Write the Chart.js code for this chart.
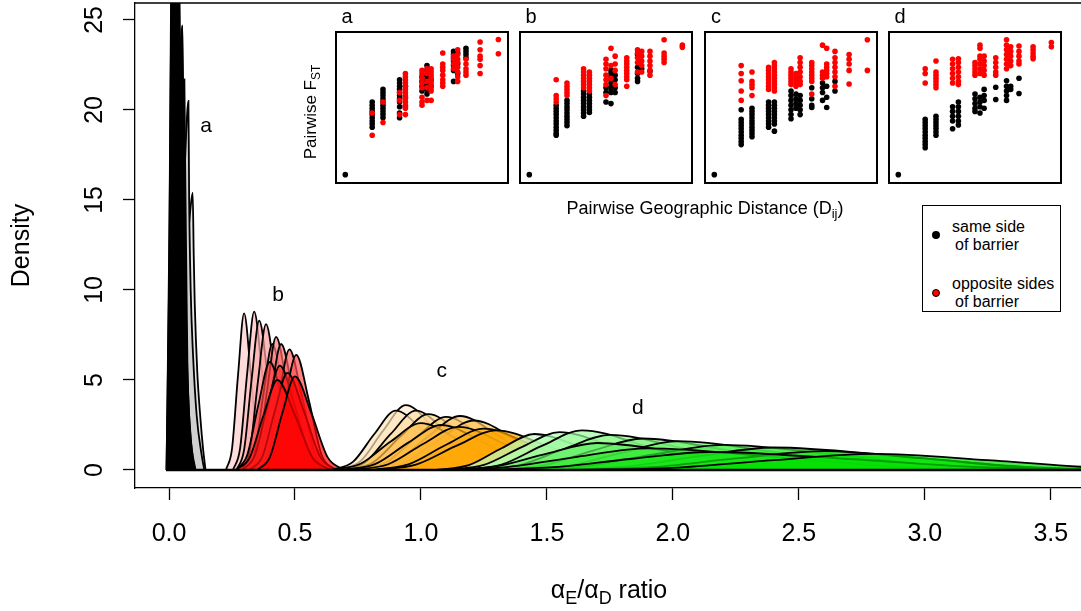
<!DOCTYPE html>
<html><head><meta charset="utf-8">
<script src="https://cdn.jsdelivr.net/npm/chart.js@4.4.1/dist/chart.umd.min.js"></script>
<style>
html,body{margin:0;padding:0;background:#fff;}
#wrap{position:relative;width:1081px;height:611px;overflow:hidden;font-family:"Liberation Sans",Arial,sans-serif;color:#000;}
#main{position:absolute;left:0;top:0;}
.inset{position:absolute;top:31px;}
.txt{position:absolute;white-space:nowrap;line-height:1;transform:translate(-50%,-50%);}
.ltxt{position:absolute;white-space:nowrap;line-height:1;font-size:16px;transform:translateY(-50%);}
.dot{position:absolute;width:8px;height:8px;border-radius:50%;box-sizing:border-box;transform:translate(-50%,-50%);}
</style></head><body>
<div id="wrap">
<canvas id="main" width="1081" height="611"></canvas>
<canvas id="insA" class="inset" style="left:335px" width="174" height="153"></canvas>
<canvas id="insB" class="inset" style="left:519px" width="174" height="153"></canvas>
<canvas id="insC" class="inset" style="left:704px" width="174" height="153"></canvas>
<canvas id="insD" class="inset" style="left:888px" width="174" height="153"></canvas>

<div class="txt" style="left:347px;top:16px;font-size:20px">a</div>
<div class="txt" style="left:531px;top:16px;font-size:20px">b</div>
<div class="txt" style="left:716px;top:16px;font-size:20px">c</div>
<div class="txt" style="left:900px;top:16px;font-size:20px">d</div>
<div class="txt" style="left:312px;top:112px;font-size:17px;transform:translate(-50%,-50%) rotate(-90deg)">Pairwise F<span style="font-size:12px;vertical-align:-4px">ST</span></div>
<div class="txt" style="left:705px;top:209px;font-size:18px">Pairwise Geographic Distance (D<span style="font-size:13px;vertical-align:-4px">ij</span>)</div>
<div class="txt" style="left:609px;top:592px;font-size:25px">&alpha;<span style="font-size:18px;vertical-align:-6px">E</span>/&alpha;<span style="font-size:18px;vertical-align:-6px">D</span> ratio</div>

<div style="position:absolute;left:922px;top:205px;width:139px;height:107px;border:1.5px solid #000;box-sizing:border-box;background:#fff"></div>
<div class="dot" style="left:936px;top:235px;background:#000"></div>
<div class="dot" style="left:936px;top:293px;background:#ff0000;border:1px solid #000"></div>
<div class="ltxt" style="left:952px;top:227px">same side</div>
<div class="ltxt" style="left:955px;top:245px">of barrier</div>
<div class="ltxt" style="left:952px;top:284px">opposite sides</div>
<div class="ltxt" style="left:955px;top:302px">of barrier</div>
</div>
<script>
// ---------- main chart data ----------
const xTicks = [0, 0.5, 1, 1.5, 2, 2.5, 3, 3.5];
const yTicks = [0, 5, 10, 15, 20, 25];

// group a: alphaE/alphaD densities near zero (x, density)
const curvesA = [
  [[0,0],[0.03,4],[0.06,10],[0.085,14.5],[0.094,15.4],[0.098,12],[0.102,9.3],[0.112,5.5],[0.125,2.8],[0.135,1.2],[0.145,0]],
  [[0,0],[0.03,6],[0.055,14],[0.072,19.8],[0.077,20.5],[0.08,15],[0.086,10],[0.095,6.5],[0.11,3],[0.13,0.8],[0.14,0]],
  [[-0.005,0],[0.02,8],[0.045,17],[0.058,21.2],[0.061,21.7],[0.064,17],[0.068,12],[0.073,6],[0.085,2],[0.105,0]],
  [[-0.008,0],[0.01,9],[0.035,20],[0.05,24.3],[0.053,24.7],[0.057,20],[0.062,14],[0.068,8],[0.08,3],[0.1,0]],
  [[-0.01,0],[0,10],[0.008,24],[0.015,32],[0.022,24],[0.035,10],[0.055,3],[0.09,0]],
  [[-0.008,0],[0.004,12],[0.015,28],[0.024,36],[0.033,28],[0.045,12],[0.065,4],[0.1,0]],
  [[-0.005,0],[0.01,12],[0.022,28],[0.032,34],[0.042,26],[0.055,11],[0.07,3],[0.1,0]],
  [[-0.01,0],[0.002,14],[0.01,30],[0.018,40],[0.027,30],[0.04,12],[0.06,3],[0.095,0]],
  [[-0.006,0],[0.008,10],[0.02,24],[0.03,30],[0.04,24],[0.052,10],[0.066,3],[0.1,0]]
];
// group b
const curvesB = [
  [[0.226,0],[0.25,1.17],[0.274,5.28],[0.298,8.7],[0.325,5.28],[0.352,1.17],[0.379,0]],
  [[0.254,0],[0.282,1.19],[0.31,5.34],[0.338,8.8],[0.37,5.34],[0.402,1.19],[0.434,0]],
  [[0.268,0],[0.298,1.12],[0.328,5.04],[0.358,8.3],[0.393,5.04],[0.428,1.12],[0.463,0]],
  [[0.289,0],[0.321,1.09],[0.353,4.92],[0.385,8.1],[0.423,4.92],[0.461,1.09],[0.499,0]],
  [[0.305,0],[0.34,0.95],[0.375,4.25],[0.41,7.0],[0.455,4.25],[0.5,0.95],[0.545,0]],
  [[0.32,0],[0.355,1.0],[0.39,4.49],[0.425,7.4],[0.47,4.49],[0.515,1.0],[0.56,0]],
  [[0.325,0],[0.365,0.95],[0.405,4.25],[0.445,7.0],[0.493,4.25],[0.541,0.95],[0.589,0]],
  [[0.352,0],[0.394,0.9],[0.436,4.07],[0.478,6.7],[0.528,4.07],[0.578,0.9],[0.628,0]],
  [[0.37,0],[0.415,0.86],[0.46,3.88],[0.505,6.4],[0.555,3.88],[0.605,0.86],[0.655,0]],
  [[0.265,0],[0.31,0.81],[0.355,3.64],[0.4,6.0],[0.455,3.64],[0.51,0.81],[0.565,0]],
  [[0.29,0],[0.34,0.78],[0.39,3.52],[0.44,5.8],[0.5,3.52],[0.56,0.78],[0.62,0]],
  [[0.32,0],[0.37,0.73],[0.42,3.28],[0.47,5.4],[0.535,3.28],[0.6,0.73],[0.665,0]],
  [[0.265,0],[0.32,0.68],[0.375,3.04],[0.43,5.0],[0.5,3.04],[0.57,0.68],[0.64,0]],
  [[0.35,0],[0.4,0.7],[0.45,3.16],[0.5,5.2],[0.565,3.16],[0.63,0.7],[0.695,0]]
];
// group c
const curvesC = [
  [[0.67,0],[0.76,0.49],[0.85,2.19],[0.94,3.6],[1.06,2.19],[1.18,0.49],[1.30,0]],
  [[0.645,0],[0.73,0.45],[0.815,2.0],[0.9,3.3],[1.02,2.0],[1.14,0.45],[1.26,0]],
  [[0.68,0],[0.78,0.45],[0.88,2.0],[0.98,3.3],[1.11,2.0],[1.24,0.45],[1.37,0]],
  [[0.70,0],[0.81,0.42],[0.92,1.88],[1.03,3.1],[1.17,1.88],[1.31,0.42],[1.45,0]],
  [[0.74,0],[0.86,0.4],[0.98,1.79],[1.1,2.95],[1.25,1.79],[1.4,0.4],[1.55,0]],
  [[0.765,0],[0.895,0.41],[1.025,1.82],[1.155,3.0],[1.315,1.82],[1.475,0.41],[1.635,0]],
  [[0.79,0],[0.93,0.37],[1.07,1.67],[1.21,2.75],[1.38,1.67],[1.55,0.37],[1.72,0]],
  [[0.64,0],[0.76,0.35],[0.88,1.58],[1.0,2.6],[1.16,1.58],[1.32,0.35],[1.48,0]],
  [[0.69,0],[0.82,0.34],[0.95,1.52],[1.08,2.5],[1.25,1.52],[1.42,0.34],[1.59,0]],
  [[0.73,0],[0.87,0.32],[1.01,1.46],[1.15,2.4],[1.33,1.46],[1.51,0.32],[1.69,0]],
  [[0.80,0],[0.95,0.31],[1.10,1.4],[1.25,2.3],[1.44,1.4],[1.63,0.31],[1.82,0]],
  [[0.82,0],[0.98,0.3],[1.14,1.34],[1.3,2.2],[1.5,1.34],[1.7,0.3],[1.9,0]]
];
// group d
const curvesD = [
  [[1.06,0],[1.19,0.27],[1.32,1.21],[1.45,2.0],[1.65,1.21],[1.85,0.27],[2.05,0]],
  [[1.10,0],[1.25,0.28],[1.40,1.27],[1.55,2.1],[1.77,1.27],[1.99,0.28],[2.21,0]],
  [[1.16,0],[1.32,0.3],[1.48,1.34],[1.64,2.2],[1.89,1.34],[2.14,0.3],[2.39,0]],
  [[1.21,0],[1.39,0.26],[1.57,1.18],[1.75,1.95],[2.05,1.18],[2.35,0.26],[2.65,0]],
  [[1.28,0],[1.48,0.24],[1.68,1.06],[1.88,1.75],[2.23,1.06],[2.58,0.24],[2.93,0]],
  [[1.36,0],[1.58,0.22],[1.8,0.97],[2.02,1.6],[2.42,0.97],[2.82,0.22],[3.22,0]],
  [[1.1,0],[1.3,0.2],[1.5,0.91],[1.7,1.5],[2.05,0.91],[2.4,0.2],[2.75,0]],
  [[1.36,0],[1.64,0.19],[1.92,0.85],[2.2,1.4],[2.65,0.85],[3.1,0.19],[3.55,0]],
  [[1.5,0],[1.8,0.17],[2.1,0.76],[2.4,1.25],[2.9,0.76],[3.4,0.17],[3.9,0]],
  [[1.06,0],[1.34,0.16],[1.62,0.73],[1.9,1.2],[2.4,0.73],[2.9,0.16],[3.4,0]],
  [[1.55,0],[1.9,0.14],[2.25,0.64],[2.6,1.05],[3.0,0.64],[3.4,0.14],[3.8,0]],
  [[1.19,0],[1.51,0.14],[1.83,0.61],[2.15,1.0],[2.7,0.61],[3.25,0.14],[3.8,0]],
  [[1.6,0],[2.0,0.12],[2.4,0.55],[2.8,0.9],[3.25,0.55],[3.7,0.12],[4.15,0]]
];
const groupLabels = ['a', 'b', 'c', 'd'];
const groupLabelX = [0.147, 0.433, 1.083, 1.861];
const groupLabelY = [19.1, 9.72, 5.5, 3.44];

// ---------- inset data (normalised distance, normalised FST) ----------
const distClasses = [0.20, 0.265, 0.365, 0.40, 0.50, 0.53, 0.555, 0.625, 0.69, 0.715, 0.765, 0.85, 0.96];
const outlierPair = [0.038, 0.037];
const aSame = [
  [.538,.516,.495,.473,.451,.429,.407,.386,.364],
  [.625,.603,.582,.560,.538,.516,.495,.473,.451,.429],
  [.691,.669,.647,.625,.603,.582,.560,.538,.505,.462,.429],
  [.647,.571,.505],
  [.712,.680,.647,.614],
  [.789,.756,.723,.691,.658,.625,.593],
  [.691,.647],
  [],
  [.887,.865,.843,.821,.789,.756,.680],
  [.876,.800,.734],
  [.909,.887,.865,.843],
  [],
  []
];
const aOpp = [
  [.462,.309],
  [.538,.397],
  [.603,.549,.451],
  [.734,.712,.691,.669,.647,.625,.603,.582,.560,.538,.516,.495,.451],
  [.756,.734,.702,.669,.636,.571,.538,.516],
  [.767,.734,.680,.636,.549],
  [.767,.745,.723,.702,.680,.658,.636,.614,.549],
  [.876,.800,.778,.756,.723,.691,.669,.647],
  [.854,.832,.800,.767],
  [.898,.865,.832,.810,.778,.745,.712,.680],
  [.832,.800,.767,.745,.723],
  [.952,.898,.854,.832,.789,.734],
  [.969,.871]
];
const bSame = [
  [.516,.495,.473,.451,.429,.407,.386,.364,.342,.320,.309],
  [.549,.527,.505,.484,.462,.440,.418,.397,.375],
  [.614,.593,.571,.549,.527,.505,.484,.462,.440],
  [.593,.571,.549,.527,.505,.484,.466],
  [.636,.603,.538],
  [.756,.734,.712,.691,.669,.647,.625,.603,.527],
  [.723,.691,.636,.603],
  [],
  [.865,.778,.734,.702,.680],
  [.767],
  [.750],
  [],
  []
];
const bOpp = [
  [.691,.582,.560,.538],
  [.669,.647,.625,.603,.582],
  [.767,.745,.723,.702,.680,.658,.636],
  [.745,.723,.702,.680,.658,.636,.614],
  [.832,.800,.767,.723,.691,.658,.582],
  [.909,.789,.702],
  [.854,.800,.756,.658],
  [.843,.821,.800,.778,.756,.734,.712,.691,.647],
  [.898,.876,.843,.810,.745],
  [.887,.854,.821,.789,.745],
  [.887,.854,.821,.789,.756,.723],
  [.967,.876,.854,.832,.810],
  [.930,.915]
];
const cSame = [
  [.484,.418,.397,.375,.353,.331,.309,.288,.266,.244],
  [.495,.473,.451,.429,.407,.386,.364,.342,.320,.298],
  [.538,.516,.495,.473,.451,.429,.407,.386,.364],
  [.538,.516,.495,.473,.451,.429,.407,.386,.337],
  [.614,.582,.549,.516,.484,.451,.422],
  [.593,.560,.527,.495],
  [.582,.549,.516,.484,.451],
  [.636,.560,.516,.500],
  [.669,.636,.603,.549],
  [.647,.571,.500],
  [.680,.614],
  [],
  []
];
const cOpp = [
  [.789,.734,.684,.614,.549],
  [.745,.680,.658,.636,.582],
  [.778,.756,.734,.712,.691,.669,.647,.625],
  [.810,.789,.767,.745,.723,.702,.680,.658,.636,.614],
  [.767,.745,.723,.702,.680,.658],
  [.734,.712,.691,.669,.647],
  [.843,.810,.778,.745,.712,.680,.658],
  [.810,.789,.767,.745,.723,.702,.680,.593],
  [.930,.745,.723,.702],
  [.909,.800,.778,.756,.734,.712],
  [.887,.843,.810,.778,.745,.712,.647],
  [.865,.832,.800,.756,.662],
  [.967,.756]
];
const dSame = [
  [.418,.397,.375,.353,.331,.309,.288,.266,.244,.222],
  [.440,.418,.397,.375,.353,.331,.309],
  [.505,.473,.440,.407,.353],
  [.538,.505,.473,.440,.407,.379],
  [.593,.560,.527,.495,.473],
  [.571,.538,.505,.462],
  [.625,.582,.549,.495],
  [.640,.555],
  [.684,.647,.614,.582,.549],
  [.647,.625],
  [.702,.597],
  [],
  []
];
const dOpp = [
  [.767,.734,.669],
  [.821,.745,.723,.702,.680,.658,.636],
  [.832,.800,.767,.734,.702,.669],
  [.836,.810,.778,.745,.712,.680,.658],
  [.810,.789,.767,.745,.723],
  [.930,.909,.854,.832,.800,.767,.734],
  [.854,.821,.789,.756,.723],
  [.843,.810,.778,.745,.723],
  [.967,.930,.898,.865,.832,.800,.767],
  [.919,.887,.854,.821,.789],
  [.924,.887,.854,.821,.800],
  [.919,.898,.876,.854,.836],
  [.948,.919]
];

// ---------- styles ----------
const FONT = "'Liberation Sans', Arial, sans-serif";
const colorsA = ['230,230,230','208,208,208','0,0,0','0,0,0','0,0,0','0,0,0','0,0,0','0,0,0','0,0,0'];
const colorsB = ['255,205,205','255,189,189','255,173,173','255,158,158','255,142,142','255,126,126','255,110,110','255,95,95','255,79,79','255,63,63','255,47,47','255,32,32','255,16,16','255,0,0'];
const colorsC = ['255,235,205','255,229,186','255,222,168','255,216,149','255,210,130','255,203,112','255,197,93','255,190,75','255,184,56','255,178,37','255,171,19','255,165,0'];
const colorsD = ['190,255,190','174,253,174','158,250,158','143,248,143','127,245,127','111,243,111','95,240,95','79,238,79','63,235,63','48,233,48','32,230,32','16,228,16','0,225,0'];

Chart.defaults.font.family = FONT;
Chart.defaults.color = '#000';

const drawList = [];
function addGroup(curves, colors, alpha) {
  curves.forEach((c, i) => {
    drawList.push({
      data: c.map(p => ({x: p[0], y: p[1]})),
      fill: 'origin',
      backgroundColor: 'rgba(' + colors[i] + ',' + alpha + ')',
      borderColor: '#000',
      borderWidth: 1.8,
      pointRadius: 0,
      cubicInterpolationMode: 'monotone'
    });
  });
}
addGroup(curvesA, colorsA, 1);
addGroup(curvesB, colorsB, 0.7);
addGroup(curvesC, colorsC, 0.7);
addGroup(curvesD, colorsD, 0.7);
const N = drawList.length;
drawList.forEach((d, i) => { d.order = N - i + 1; });
drawList.push({data: [{x: -0.012, y: 0}, {x: 3.7, y: 0}], fill: false, borderColor: '#000', borderWidth: 2.6, pointRadius: 0, order: 0});

const framePlugin = {
  id: 'frame',
  afterDraw(chart) {
    const a = chart.chartArea, ctx = chart.ctx;
    ctx.save();
    ctx.strokeStyle = '#000'; ctx.lineWidth = 1.3;
    ctx.beginPath(); ctx.moveTo(a.left, a.top); ctx.lineTo(a.right, a.top); ctx.stroke();
    ctx.fillStyle = '#000';
    ctx.font = '21px ' + FONT;
    ctx.textAlign = 'center'; ctx.textBaseline = 'middle';
    groupLabels.forEach((t, i) => {
      ctx.fillText(t, chart.scales.x.getPixelForValue(groupLabelX[i]), chart.scales.y.getPixelForValue(groupLabelY[i]));
    });
    ctx.restore();
  }
};

new Chart(document.getElementById('main'), {
  type: 'line',
  data: {datasets: drawList},
  options: {
    responsive: false, animation: false, events: [],
    layout: {padding: {top: 3, left: 0, right: 0, bottom: 0}},
    plugins: {legend: {display: false}, tooltip: {enabled: false}},
    scales: {
      x: {
        type: 'linear', min: -0.135, max: 3.62,
        afterBuildTicks: s => { s.ticks = xTicks.map(v => ({value: v})); },
        afterFit: s => { s.height = 123; s.paddingLeft = 0; s.paddingRight = 0; },
        ticks: {autoSkip: false, maxRotation: 0, minRotation: 0, font: {size: 25}, color: '#000', padding: 19,
                callback: v => Number(v).toFixed(1)},
        grid: {drawOnChartArea: false, drawTicks: true, tickLength: 12, color: '#000', tickWidth: 1.3},
        border: {display: true, color: '#000', width: 1.3}
      },
      y: {
        type: 'linear', min: -1.0, max: 25.94,
        afterBuildTicks: s => { s.ticks = yTicks.map(v => ({value: v})); },
        afterFit: s => { s.width = 135; s.paddingTop = 0; s.paddingBottom = 0; },
        ticks: {autoSkip: false, font: {size: 25}, color: '#000', padding: 14, minRotation: 90, maxRotation: 90,
                crossAlign: 'center', callback: v => String(v)},
        grid: {drawOnChartArea: false, drawTicks: true, tickLength: 12, color: '#000', tickWidth: 1.3},
        border: {display: true, color: '#000', width: 1.3},
        title: {display: true, text: 'Density', font: {size: 25}, color: '#000', padding: {top: 7, bottom: 0}}
      }
    }
  },
  plugins: [framePlugin]
});

// ---------- insets ----------
const boxPlugin = {
  id: 'box',
  beforeDraw(chart) {
    const ctx = chart.ctx;
    ctx.save(); ctx.fillStyle = '#fff'; ctx.fillRect(0, 0, chart.width, chart.height); ctx.restore();
  },
  afterDraw(chart) {
    const ctx = chart.ctx;
    ctx.save(); ctx.strokeStyle = '#000'; ctx.lineWidth = 2;
    ctx.strokeRect(1, 1, chart.width - 2, chart.height - 2); ctx.restore();
  }
};
function makeInset(id, same, opp) {
  const sameData = [{x: outlierPair[0], y: outlierPair[1]}];
  same.forEach((col, i) => col.forEach(y => sameData.push({x: distClasses[i], y: y})));
  const oppData = [];
  opp.forEach((col, i) => col.forEach(y => oppData.push({x: distClasses[i], y: y})));
  new Chart(document.getElementById(id), {
    type: 'scatter',
    data: {datasets: [
      {data: oppData, backgroundColor: '#ff0000', borderWidth: 0, pointRadius: 2.8},
      {data: sameData, backgroundColor: '#000000', borderWidth: 0, pointRadius: 2.8}
    ]},
    options: {
      responsive: false, animation: false, events: [],
      layout: {padding: 0},
      plugins: {legend: {display: false}, tooltip: {enabled: false}},
      scales: {
        x: {type: 'linear', min: 0, max: 1, display: false},
        y: {type: 'linear', min: 0, max: 1, display: false}
      }
    },
    plugins: [boxPlugin]
  });
}
makeInset('insA', aSame, aOpp);
makeInset('insB', bSame, bOpp);
makeInset('insC', cSame, cOpp);
makeInset('insD', dSame, dOpp);
</script>
</body></html>
